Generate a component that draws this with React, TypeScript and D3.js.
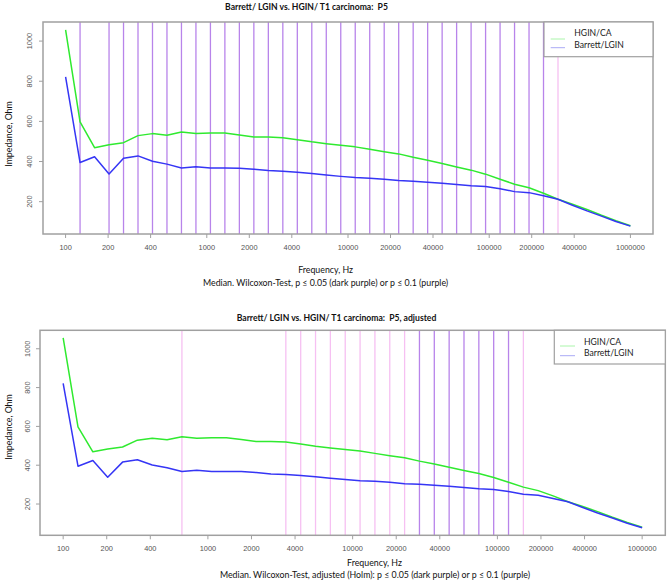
import React from 'react';
import * as d3 from 'd3';

// Frequencies (Hz), 40 log-spaced measurement points
const FREQ = [
  100, 126.6, 160.4, 203.1, 257.2, 325.7, 412.5, 522.3, 661.5, 837.7,
  1061, 1343, 1701, 2154, 2728, 3455, 4376, 5541, 7017, 8886,
  11253, 14251, 18047, 22855, 28943, 36653, 46416, 58780, 74438, 94267,
  119378, 151178, 191448, 242446, 307029, 388816, 492388, 623551, 789652, 1000000,
];

// Median impedance, Ohm
const HGIN_CA = [
  1056, 598, 469, 483, 494, 529, 539, 531, 547, 539,
  542, 542, 532, 522, 522, 519, 509, 498, 489, 481,
  473, 461, 449, 438, 421, 406, 390, 373, 357, 337,
  312, 287, 269, 242, 212, 187, 161, 132, 105, 80,
];
const BARRETT_LGIN = [
  822, 395, 424, 338, 416, 428, 401, 387, 368, 374,
  368, 368, 367, 362, 355, 352, 347, 340, 333, 326,
  320, 317, 312, 305, 302, 297, 292, 285, 279, 275,
  264, 250, 245, 229, 212, 182, 154, 128, 101, 78,
];

const X_TICKS = [100, 200, 400, 1000, 2000, 4000, 10000, 20000, 40000, 100000, 200000, 400000, 1000000];
const Y_TICKS = [200, 400, 600, 800, 1000];

// indices into FREQ of significant frequencies
const TOP_SIG_05 = [1, 3, 4, 5, 6, 7, 8, 9, 10, 11, 12, 13, 14, 15, 16, 17, 18, 19, 20, 21, 22, 23, 24, 25, 26, 27, 28, 29, 30, 31, 32, 33];
const TOP_SIG_10 = [34];
const BOT_SIG_05 = [24, 25, 26, 27, 28, 29, 30];
const BOT_SIG_10 = [8, 15, 16, 17, 18, 19, 20, 21, 22, 23, 31];

const SERIES_NAMES = ['HGIN/CA', 'Barrett/LGIN'];
const TITLE_TOP = 'Barrett/ LGIN vs. HGIN/ T1 carcinoma:  P5';
const TITLE_BOT = 'Barrett/ LGIN vs. HGIN/ T1 carcinoma:  P5, adjusted';
const SUB_TOP = 'Median. Wilcoxon-Test, p \u2264 0.05 (dark purple) or p \u2264 0.1 (purple)';
const SUB_BOT = 'Median. Wilcoxon-Test, adjusted (Holm): p \u2264 0.05 (dark purple) or p \u2264 0.1 (purple)';
const X_LABEL = 'Frequency, Hz';
const Y_LABEL = 'Impedance, Ohm';

const GREEN = '#2fea2f';
const BLUE = '#3535f5';
const DARK_PURPLE = '#b884ea';
const PURPLE = '#f6c0f2';
const FRAME = '#a0a0a0';
const LABEL_FONT = 'Lato, "Open Sans", sans-serif';
const TICK_FONT = '"Liberation Sans", Arial, sans-serif';

type PanelProps = {
  left: number; right: number; top: number; bottom: number;
  title: string; titleX: number; titleY: number;
  xLabelX: number; xLabelY: number;
  sub: string; subX: number; subY: number;
  yLabelX: number; yLabelY: number;
  yTickX: number; xTickY: number;
  sig05: number[]; sig10: number[];
  legend: { x0: number; x1: number; y0: number; y1: number; lineX0: number; lineX1: number; textX: number; textY: number[]; lineY: number[] };
};

function Panel(p: PanelProps) {
  const W = p.right - p.left;
  const pad = (W * 0.04) / 1.08;
  const x = d3.scaleLog().domain([100, 1e6]).range([p.left + pad, p.right - pad]);
  const all = HGIN_CA.concat(BARRETT_LGIN);
  const mn = d3.min(all) as number;
  const mx = d3.max(all) as number;
  const r = mx - mn;
  const y = d3.scaleLinear().domain([mn - 0.04 * r, mx + 0.04 * r]).range([p.bottom, p.top]);
  const line = d3.line<number>().x((_, i) => x(FREQ[i])).y((d) => y(d));

  return (
    <g>
      {p.sig10.map((i) => (
        <line key={'s10' + i} x1={x(FREQ[i])} x2={x(FREQ[i])} y1={p.top} y2={p.bottom} stroke={PURPLE} strokeWidth={1.3} />
      ))}
      {p.sig05.map((i) => (
        <line key={'s05' + i} x1={x(FREQ[i])} x2={x(FREQ[i])} y1={p.top} y2={p.bottom} stroke={DARK_PURPLE} strokeWidth={1.3} />
      ))}
      <path d={line(HGIN_CA) || ''} fill="none" stroke={GREEN} strokeWidth={1.5} strokeLinejoin="round" />
      <path d={line(BARRETT_LGIN) || ''} fill="none" stroke={BLUE} strokeWidth={1.5} strokeLinejoin="round" />
      <rect x={p.left} y={p.top} width={W} height={p.bottom - p.top} fill="none" stroke={FRAME} strokeWidth={1.5} />
      {X_TICKS.map((t) => (
        <g key={'xt' + t}>
          <line x1={x(t)} x2={x(t)} y1={p.bottom} y2={p.bottom + 4} stroke={FRAME} strokeWidth={1} />
          <text x={x(t)} y={p.xTickY} textAnchor="middle" fontFamily={TICK_FONT} fontSize={7.4} fill="#555">{t}</text>
        </g>
      ))}
      {Y_TICKS.map((t) => (
        <g key={'yt' + t}>
          <line x1={p.left - 4} x2={p.left} y1={y(t)} y2={y(t)} stroke={FRAME} strokeWidth={1} />
          <text transform={`translate(${p.yTickX},${y(t)}) rotate(-90)`} textAnchor="middle" fontFamily={TICK_FONT} fontSize={7.4} fill="#555">{t}</text>
        </g>
      ))}
      <text x={p.titleX} y={p.titleY} textAnchor="middle" fontFamily={LABEL_FONT} fontWeight="bold" fontSize={8.6} fill="#111" style={{ whiteSpace: 'pre' }}>{p.title}</text>
      <text x={p.xLabelX} y={p.xLabelY} textAnchor="middle" fontFamily={LABEL_FONT} fontSize={8.8} fill="#111">{X_LABEL}</text>
      <text x={p.subX} y={p.subY} textAnchor="middle" fontFamily={LABEL_FONT} fontSize={8.8} fill="#111">{p.sub}</text>
      <text transform={`translate(${p.yLabelX},${p.yLabelY}) rotate(-90)`} textAnchor="middle" fontFamily={LABEL_FONT} fontSize={8.8} fill="#111">{Y_LABEL}</text>
      <rect x={p.legend.x0} y={p.legend.y0} width={p.legend.x1 - p.legend.x0} height={p.legend.y1 - p.legend.y0} fill="#fff" stroke={FRAME} strokeWidth={1.2} />
      {SERIES_NAMES.map((n, i) => (
        <g key={n}>
          <line x1={p.legend.lineX0} x2={p.legend.lineX1} y1={p.legend.lineY[i]} y2={p.legend.lineY[i]} stroke={i === 0 ? '#aaf5aa' : '#aaaaf5'} strokeWidth={1} />
          <text x={p.legend.textX} y={p.legend.textY[i]} fontFamily={LABEL_FONT} fontSize={8.6} fill="#222">{n}</text>
        </g>
      ))}
    </g>
  );
}

export default function App() {
  return (
    <svg width={669} height={584} style={{ position: 'absolute', left: 0, top: 0, background: '#fff' }}>
      <rect x={0} y={0} width={669} height={584} fill="#fff" />
      <Panel
        left={43} right={653} top={22} bottom={234}
        title={TITLE_TOP} titleX={306.5} titleY={9.6}
        xLabelX={325.6} xLabelY={273.3}
        sub={SUB_TOP} subX={325.6} subY={286}
        yLabelX={12} yLabelY={134}
        yTickX={32.3} xTickY={250.2}
        sig05={TOP_SIG_05} sig10={TOP_SIG_10}
        legend={{ x0: 544, x1: 653, y0: 22, y1: 56.7, lineX0: 550.7, lineX1: 565, textX: 574.3, textY: [36.3, 48], lineY: [39, 47.7] }}
      />
      <Panel
        left={40} right={665.3} top={330.3} bottom={535.3}
        title={TITLE_BOT} titleX={336.5} titleY={320.7}
        xLabelX={374.5} xLabelY={566}
        sub={SUB_BOT} subX={375} subY={578.3}
        yLabelX={12} yLabelY={427}
        yTickX={29.8} xTickY={550.8}
        sig05={BOT_SIG_05} sig10={BOT_SIG_10}
        legend={{ x0: 554.3, x1: 665.3, y0: 330.3, y1: 364, lineX0: 560, lineX1: 575, textX: 584, textY: [344.7, 356], lineY: [346, 355.7] }}
      />
    </svg>
  );
}
